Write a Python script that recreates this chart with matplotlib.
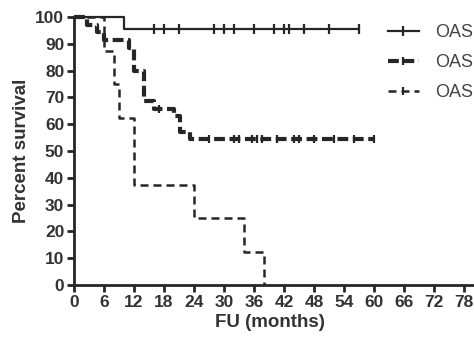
import numpy as np
import matplotlib
matplotlib.use("Agg")
import matplotlib.pyplot as plt

plt.rcParams['font.family'] = ['Liberation Sans', 'DejaVu Sans']

# group 1 (solid)
t1 = [0, 10, 57]
s1 = [100, 95.5, 95.5]
c1 = [16, 18, 21, 28, 30, 32, 36, 40, 42, 43, 46, 51, 57]

# group 2 (thick dashes)
t2 = [0, 2.5, 4.5, 6, 11, 12, 14, 16, 20, 21.2, 23.2, 60]
s2 = [100, 97.1, 94.3, 91.4, 88.6, 80, 68.6, 65.7, 62.9, 57.1, 54.3, 54.3]
c2 = [17, 27, 32, 33, 35.5, 36.5, 37.5, 40.5, 44, 45, 48, 52, 56, 60]

# group 3 (thin dashes)
t3 = [0, 6, 8, 9, 12, 24, 34, 38]
s3 = [100, 87.5, 75, 62.5, 37.5, 25, 12.5, 0]

labels = ["OAS", "OAS", "OAS"]
xticks = list(range(0, 79, 6))
yticks = list(range(0, 101, 10))

col = "#262626"


def censor_y(t, s, c):
    idx = np.searchsorted(t, c, side="right") - 1
    return np.array(s)[idx]


fig = plt.figure(figsize=(4.74, 3.39), dpi=100)
ax = fig.add_axes([74 / 474, 1 - 285 / 339, 1 - 74 / 474, (285 - 17) / 339])

ax.step(t1, s1, where="post", color=col, lw=1.6, clip_on=False)
ax.plot(c1, censor_y(t1, s1, c1), ls="none", marker="|", ms=7, mew=1.6,
        color=col, clip_on=False)

ax.step(t2, s2, where="post", color=col, lw=3.0, dashes=(2.6, 1.1), clip_on=False)
ax.plot(c2, censor_y(t2, s2, c2), ls="none", marker="|", ms=6, mew=1.6,
        color=col, clip_on=False)

ax.step(t3, s3, where="post", color=col, lw=1.8, dashes=(3.2, 2.0), clip_on=False)

# legend handles
h1, = ax.plot([], [], color=col, lw=1.6, marker="|", ms=7, mew=1.6)
h2, = ax.plot([], [], color=col, lw=3.0, dashes=(2.6, 1.1), marker="|", ms=6, mew=1.6)
h3, = ax.plot([], [], color=col, lw=1.8, dashes=(3.2, 2.0), marker="|", ms=6, mew=1.6)
leg = fig.legend([h1, h2, h3], labels, loc="upper left",
                 bbox_to_anchor=(388 / 474, 1 - 24 / 339), frameon=False,
                 borderpad=0, borderaxespad=0, handlelength=1.7,
                 handletextpad=0.9, labelspacing=0.72, fontsize=13,
                 labelcolor="#444444")

ax.set_xlim(0, 80)
ax.set_ylim(0, 100)
ax.set_xticks(xticks)
ax.set_yticks(yticks)
ax.spines["top"].set_visible(False)
ax.spines["right"].set_visible(False)
for sp in ["left", "bottom"]:
    ax.spines[sp].set_linewidth(2)
    ax.spines[sp].set_color(col)
ax.tick_params(axis="both", direction="out", length=5, width=2, color=col,
               labelsize=12.5, labelcolor="#333333", pad=2)
for lab in ax.get_xticklabels() + ax.get_yticklabels():
    lab.set_fontweight("bold")

ax.set_xlabel("FU (months)", fontsize=13.5, fontweight="bold", color="#333333",
              labelpad=1)
ax.xaxis.set_label_coords((270 - 74) / 400, -0.11)
ax.set_ylabel("Percent survival", fontsize=13.5, fontweight="bold", color="#333333",
              labelpad=4)

fig.savefig("out.png", dpi=100)
